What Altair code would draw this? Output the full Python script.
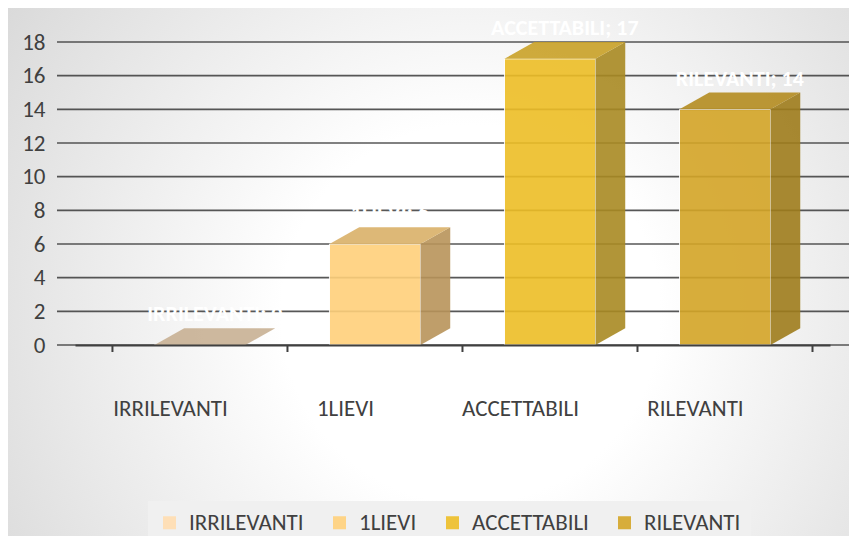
import altair as alt
import pandas as pd

categories = ["IRRILEVANTI", "1LIEVI", "ACCETTABILI", "RILEVANTI"]
values = [0, 6, 17, 14]
front_colors = ["#FFDDB0", "#FFD07B", "#EDBE26", "#D4A527"]
side_colors = ["#B39C80", "#B8935A", "#A98922", "#9E7C1C"]
top_colors = ["#C8B093", "#D9B068", "#C9A127", "#B48C20"]
y_ticks = [0, 2, 4, 6, 8, 10, 12, 14, 16, 18]

W, H = 755, 303
HW, DX, DY = 0.26, 0.17, 1.0
FONT = "Carlito, Lato, sans-serif"

front = pd.DataFrame({
    "cat": categories,
    "x": [i - HW for i in range(4)],
    "x2": [i + HW for i in range(4)],
    "v": values,
    "lab": [f"{c}; {v}" for c, v in zip(categories, values)],
    "lx": [i + DX / 2 for i in range(4)],
    "ly": [v + DY for v in values],
})

side_rows, top_rows = [], []
for i, (c, v) in enumerate(zip(categories, values)):
    L, R = i - HW, i + HW
    side_rows += [
        {"cat": c, "x": R, "lo": 0, "hi": v, "col": side_colors[i]},
        {"cat": c, "x": R + DX, "lo": DY, "hi": v + DY, "col": side_colors[i]},
    ]
    top_rows += [
        {"cat": c, "x": L, "lo": v, "hi": v, "col": top_colors[i]},
        {"cat": c, "x": L + DX, "lo": v, "hi": v + DY, "col": top_colors[i]},
        {"cat": c, "x": R, "lo": v, "hi": v + DY, "col": top_colors[i]},
        {"cat": c, "x": R + DX, "lo": v + DY, "hi": v + DY, "col": top_colors[i]},
    ]
side = pd.DataFrame(side_rows)
top = pd.DataFrame(top_rows)
bounds = pd.DataFrame({"b": [-0.5, 0.5, 1.5, 2.5, 3.5]})
grid = pd.DataFrame({"t": y_ticks})

xs = alt.Scale(domain=[-0.714, 3.6], nice=False, zero=False)
ys = alt.Scale(domain=[0, 18], nice=False)

xaxis = alt.Axis(
    values=[0, 1, 2, 3],
    labelExpr="['IRRILEVANTI','1LIEVI','ACCETTABILI','RILEVANTI'][datum.value]",
    grid=False, ticks=False, domain=True, domainColor="#404040", domainWidth=2,
    labelFontSize=23, labelColor="#404040", labelPadding=52, labelOffset=-30,
    title=None, zindex=1,
)
yaxis = alt.Axis(
    values=y_ticks, grid=False, domain=False, ticks=False, labelFontSize=23,
    labelColor="#404040", labelPadding=30, title=None, zindex=1,
)

bg = alt.Chart(pd.DataFrame({"a": [0]})).mark_rect(
    fill={
        "gradient": "radial",
        "x1": 0.55, "y1": 0.55, "r1": 0,
        "x2": 0.55, "y2": 0.55, "r2": 0.75,
        "stops": [
            {"offset": 0, "color": "#FFFFFF"},
            {"offset": 0.3, "color": "#FFFFFF"},
            {"offset": 1, "color": "#D2D2D2"},
        ],
    }
).encode(
    x=alt.value(-67), x2=alt.value(W + 19), y=alt.value(-34), y2=alt.value(H + 191)
)

gridlines = alt.Chart(grid).mark_rule(color="#3A3A3A", strokeWidth=1.6, opacity=0.85).encode(
    y=alt.Y("t:Q", scale=ys, axis=yaxis),
    x=alt.value(-18), x2=alt.value(W + 19),
)

bars = alt.Chart(front).mark_bar(stroke="white", strokeWidth=1, opacity=0.9).encode(
    x=alt.X("x:Q", scale=xs, axis=xaxis),
    x2="x2:Q",
    y=alt.Y("v:Q", scale=ys, axis=yaxis),
    y2=alt.datum(0),
    color=alt.Color("cat:N", scale=alt.Scale(domain=categories, range=front_colors),
                    sort=categories,
                    legend=alt.Legend(
                        title=None, orient="none", legendX=73, legendY=459,
                        direction="horizontal", symbolType="square", symbolSize=170,
                        symbolStrokeWidth=0, labelFontSize=23, labelColor="#404040",
                        columnPadding=24, labelOffset=8, fillColor="#F0F0F0",
                        padding=10,
                    )),
)

sides = alt.Chart(side).mark_area(opacity=0.9).encode(
    x=alt.X("x:Q", scale=xs, axis=xaxis),
    y=alt.Y("lo:Q", scale=ys, axis=yaxis, stack=None),
    y2="hi:Q",
    fill=alt.Fill("col:N", scale=None),
    detail="cat:N",
)

tops = alt.Chart(top).mark_area(opacity=0.9).encode(
    x=alt.X("x:Q", scale=xs, axis=xaxis),
    y=alt.Y("lo:Q", scale=ys, axis=yaxis, stack=None),
    y2="hi:Q",
    fill=alt.Fill("col:N", scale=None),
    detail="cat:N",
)

ticks = alt.Chart(bounds).mark_rule(color="#404040", strokeWidth=2).encode(
    x=alt.X("b:Q", scale=xs, axis=xaxis),
    y=alt.value(H), y2=alt.value(H + 7),
)

labels = alt.Chart(front).mark_text(
    color="white", fontSize=22, fontWeight="bold", baseline="bottom", dy=-2
).encode(
    x=alt.X("lx:Q", scale=xs, axis=xaxis),
    y=alt.Y("ly:Q", scale=ys, axis=yaxis),
    text="lab:N",
)

chart = alt.layer(bg, gridlines, bars, sides, tops, ticks, labels).properties(
    width=W, height=H,
    autosize=alt.AutoSizeParams(type="none"),
    padding={"left": 67, "top": 34, "right": 19, "bottom": 191},
).configure(font=FONT).configure_view(stroke=None)

chart.save("out.html", embed_options={"renderer": "svg", "actions": False})
